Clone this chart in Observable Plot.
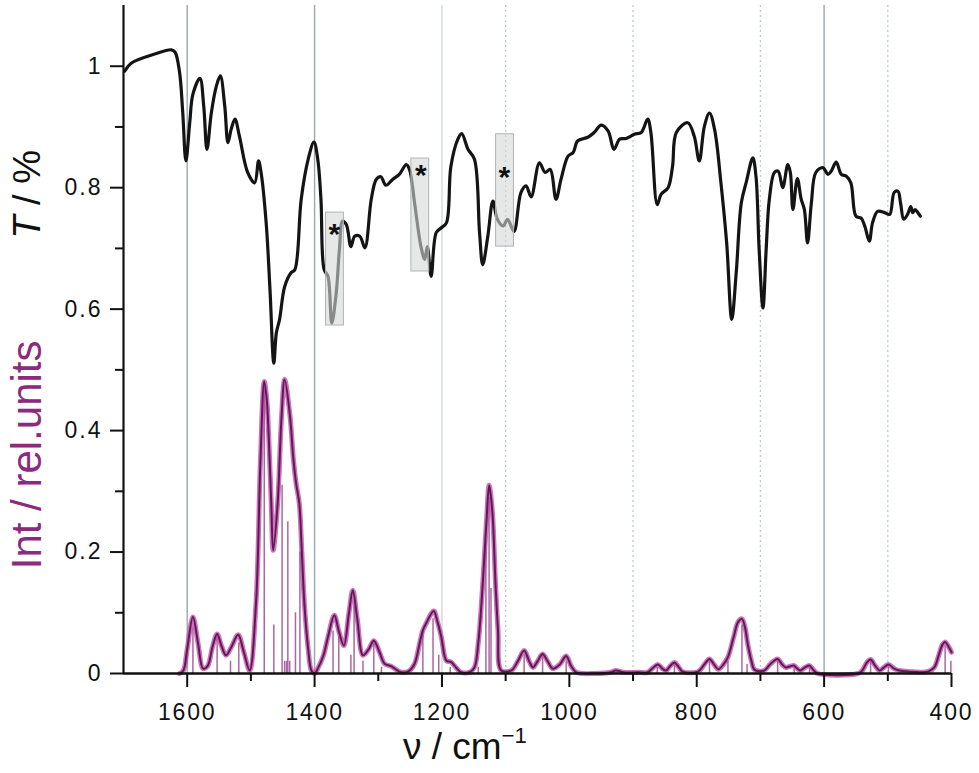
<!DOCTYPE html>
<html><head><meta charset="utf-8">
<script src="https://cdn.jsdelivr.net/npm/d3@7"></script>
<script src="https://cdn.jsdelivr.net/npm/@observablehq/plot@0.6"></script>
<style>
body{margin:0;background:#fff}
g[aria-label="x-axis tick label"] text{letter-spacing:1.8px}
g[aria-label="y-axis tick label"] text{letter-spacing:2px}
</style>
</head><body><div id="chart"></div>
<script>
// Experimental IR transmission spectrum (wavenumber cm-1, T)
const irWn = [1698,1688,1651,1625,1619,1612,1607,1602,1596,1591,1580,1574,1569,1562,1554,1548,1541,1536,1531,1525,1518,1505,1494,1488,1484,1476,1470,1464,1460,1455,1447,1437,1431,1421,1410,1401,1395,1390,1385,1379,1373,1366,1361,1356,1350,1343,1337,1329,1321,1311,1303,1296,1288,1277,1267,1256,1251,1243,1233,1227,1223,1217,1209,1201,1193,1186,1175,1169,1159,1149,1141,1136,1128,1120,1113,1104,1097,1087,1076,1068,1060,1047,1038,1030,1021,1013,1002,994,987,971,961,950,939,930,921,911,898,887,877,872,862,856,845,838,832,814,804,796,788,780,772,762,753,745,738,730,722,712,707,702,696,691,686,678,672,665,657,653,649,642,636,631,626,620,613,602,594,589,581,573,565,558,550,542,536,529,524,516,505,497,490,484,480,475,469,464,461,457,453,449];
const irT = [0.992,1.005,1.020,1.027,1.023,0.990,0.924,0.844,0.907,0.954,0.980,0.934,0.863,0.924,0.968,0.984,0.934,0.874,0.896,0.913,0.885,0.825,0.808,0.844,0.825,0.742,0.632,0.511,0.561,0.583,0.637,0.660,0.665,0.781,0.847,0.875,0.847,0.781,0.665,0.654,0.577,0.627,0.698,0.745,0.739,0.703,0.720,0.720,0.701,0.781,0.814,0.818,0.804,0.814,0.822,0.838,0.830,0.775,0.703,0.682,0.703,0.654,0.726,0.734,0.742,0.835,0.880,0.889,0.863,0.847,0.726,0.673,0.720,0.778,0.748,0.737,0.748,0.728,0.792,0.803,0.785,0.841,0.825,0.830,0.781,0.814,0.852,0.858,0.877,0.883,0.891,0.903,0.893,0.863,0.880,0.881,0.888,0.891,0.913,0.891,0.772,0.789,0.800,0.835,0.891,0.907,0.885,0.844,0.901,0.923,0.896,0.808,0.709,0.583,0.660,0.775,0.810,0.849,0.819,0.698,0.602,0.698,0.781,0.825,0.827,0.800,0.838,0.825,0.764,0.815,0.781,0.764,0.709,0.775,0.825,0.833,0.822,0.827,0.842,0.822,0.819,0.808,0.753,0.750,0.736,0.712,0.742,0.761,0.759,0.756,0.792,0.794,0.775,0.748,0.756,0.769,0.759,0.764,0.759,0.753];

// Calculated spectrum envelope (wavenumber, intensity)
const calcWn = [1612,1606,1600,1591,1583,1575,1568,1560,1553,1546,1539,1530,1520,1511,1502,1492,1485,1479,1475,1472,1468,1465,1458,1452,1447,1439,1433,1429,1424,1420,1416,1410,1405,1400,1395,1386,1379,1369,1362,1354,1346,1340,1333,1324,1315,1307,1298,1290,1280,1264,1252,1243,1235,1230,1225,1213,1207,1201,1193,1186,1178,1170,1157,1149,1143,1138,1133,1130,1126,1123,1120,1116,1112,1107,1091,1081,1071,1063,1057,1050,1042,1034,1026,1015,1005,997,989,960,935,927,915,892,877,868,861,854,848,842,835,828,822,798,788,780,773,766,758,751,742,735,729,724,720,714,709,694,685,673,666,660,653,647,642,637,630,623,617,610,547,540,533,527,520,513,506,499,490,482,465,448,435,427,420,414,410,405,400];
const calcI = [0,0.005,0.04,0.093,0.05,0.008,0.012,0.045,0.065,0.045,0.030,0.045,0.064,0.035,0.005,0.115,0.35,0.481,0.45,0.390,0.28,0.203,0.280,0.42,0.484,0.428,0.35,0.313,0.280,0.2,0.115,0.04,0.005,0,0.008,0.03,0.060,0.096,0.07,0.046,0.10,0.137,0.09,0.030,0.04,0.054,0.035,0.016,0.012,0.002,0.004,0.016,0.05,0.071,0.082,0.103,0.085,0.060,0.021,0.019,0.01,0.002,0.002,0.010,0.05,0.115,0.2,0.252,0.310,0.29,0.252,0.15,0.071,0.005,0.005,0.02,0.038,0.02,0.010,0.02,0.032,0.02,0.008,0.015,0.029,0.012,0.002,0,0.002,0.005,0.002,0.002,0.002,0.01,0.015,0.008,0.005,0.012,0.018,0.01,0.003,0.003,0.015,0.024,0.015,0.007,0.015,0.027,0.06,0.085,0.090,0.075,0.049,0.02,0.006,0.005,0.015,0.024,0.015,0.010,0.012,0.013,0.008,0.005,0.01,0.013,0.006,0,0,0.005,0.018,0.023,0.013,0.005,0.01,0.015,0.008,0.005,0.003,0.002,0.004,0.010,0.03,0.048,0.052,0.045,0.035];

// Calculated line positions (sticks)
const stickWn = [1591,1553,1532,1519,1479,1464,1451,1447,1444,1442,1439,1430,1423,1371,1362,1343,1338,1324,1307,1295,1230,1214,1205,1187,1143,1131,1126,1123,1071,1042,1005,862,835,780,751,729,721,673,647,623,527,499,410,401];
const stickI = [0.075,0.06,0.02,0.05,0.47,0.08,0.31,0.02,0.02,0.25,0.02,0.10,0.20,0.07,0.06,0.03,0.11,0.02,0.05,0.01,0.07,0.09,0.03,0.01,0.01,0.22,0.29,0.14,0.03,0.03,0.02,0.01,0.015,0.02,0.02,0.08,0.015,0.02,0.01,0.01,0.02,0.01,0.045,0.02];

// Highlighted regions (asterisks)
const boxX1 = [1382,1248,1115];
const boxX2 = [1354,1220,1087];
const boxY1 = [0.573,0.662,0.703];
const boxY2 = [0.759,0.848,0.888];
const starX = [1369,1233,1102];
const starY = [0.738,0.835,0.831];

// Grid lines and ticks
const gridSolid = [1600,1400,600];
const gridLight = [1200];
const gridDotted = [1100,900,700,500];
const xMajor = [1600,1400,1200,1000,800,600,400];
const xMinor = [1500,1300,1100,900,700,500];
const yMajor = [0,0.2,0.4,0.6,0.8,1.0];
const yMinor = [0.1,0.3,0.5,0.7,0.9];

const ir = irWn.map((w,i)=>({w, t: irT[i]}));
const calc = calcWn.map((w,i)=>({w, v: calcI[i]}));
const sticks = stickWn.map((w,i)=>({w, v: stickI[i]}));
const boxes = boxX1.map((x,i)=>({x1: x, x2: boxX2[i], y1: boxY1[i], y2: boxY2[i]}));
const stars = starX.map((x,i)=>({x, y: starY[i]}));

const purple = "#8b2a7e";
const font = "'Liberation Sans', Arial, sans-serif";

const chart = Plot.plot({
  width: 979, height: 773,
  marginLeft: 123, marginRight: 28, marginTop: 5, marginBottom: 100,
  style: {fontFamily: font, background: "#fff", color: "#111"},
  x: {domain: [1700, 400], axis: null},
  y: {domain: [0, 1.1], axis: null},
  marks: [
    Plot.ruleX(gridSolid, {stroke: "#9ba7ad", strokeWidth: 1.4}),
    Plot.ruleX(gridLight, {stroke: "#d2dadd", strokeWidth: 1.4}),
    Plot.ruleX(gridDotted, {stroke: "#bccacd", strokeWidth: 1.3, strokeDasharray: "2,3"}),
    Plot.ruleX(sticks, {x: "w", y1: 0, y2: "v", stroke: "#9a4d90", strokeWidth: 1.5, strokeOpacity: 0.85}),
    Plot.line(calc, {x: "w", y: "v", stroke: "#c044a8", strokeWidth: 5, strokeOpacity: 0.75, curve: "catmull-rom"}),
    Plot.line(calc, {x: "w", y: "v", stroke: "#5e1a55", strokeWidth: 2, curve: "catmull-rom"}),
    Plot.line(ir, {x: "w", y: "t", stroke: "#141414", strokeWidth: 3.2, curve: "catmull-rom"}),
    Plot.rect(boxes, {x1: "x1", x2: "x2", y1: "y1", y2: "y2", fill: "#d5d9d9", fillOpacity: 0.6, stroke: "#aeb4b4", strokeWidth: 1}),
    Plot.text(stars, {x: "x", y: "y", text: () => "*", fontSize: 30, fontWeight: "bold", fill: "#111", dy: 9}),
    Plot.ruleX([1700], {y1: 0, y2: 1.1, stroke: "#111", strokeWidth: 2.2}),
    Plot.ruleY([0], {stroke: "#111", strokeWidth: 2.5}),
    Plot.axisX(xMajor, {tickSize: 14, tickPadding: 16, fontSize: 23, strokeWidth: 2, stroke: "#111", fill: "#111", tickFormat: d => String(d), label: null}),
    Plot.axisX(xMinor, {tickSize: 8, strokeWidth: 2, stroke: "#111", tickFormat: () => "", label: null}),
    Plot.axisY(yMajor, {tickSize: 13, tickPadding: 8, fontSize: 23, strokeWidth: 2, stroke: "#111", fill: "#111", tickFormat: d => d === 0 ? "0" : d === 1 ? "1" : d.toFixed(1), label: null}),
    Plot.axisY(yMinor, {tickSize: 8, strokeWidth: 2, stroke: "#111", tickFormat: () => "", label: null}),
    Plot.text(["T / %"], {x: 1700, y: 0.789, dx: -96, text: d => d, rotate: -90, fontSize: 38, fill: "#111", lineAnchor: "middle"}),
    Plot.text(["Int / rel.units"], {x: 1700, y: 0.36, dx: -96, text: d => d, rotate: -90, fontSize: 42, fill: purple, lineAnchor: "middle"}),
    Plot.text(["ν / cm-1"], {x: 1164, y: 0, dy: 74, text: d => d, fontSize: 37, fill: "#111", lineAnchor: "middle"})
  ]
});

// rich text: italic T, superscript -1
d3.select(chart).selectAll("text").each(function() {
  const el = d3.select(this);
  const t = this.textContent;
  if (t === "T / %") {
    el.text(null);
    el.append("tspan").attr("font-style", "italic").text("T");
    el.append("tspan").text(" / %");
  } else if (t === "ν / cm-1") {
    el.text(null);
    el.append("tspan").text("ν / cm");
    el.append("tspan").attr("font-size", "60%").attr("dy", "-0.75em").text("−1");
  }
});

document.getElementById("chart").appendChild(chart);
</script>
</body></html>
